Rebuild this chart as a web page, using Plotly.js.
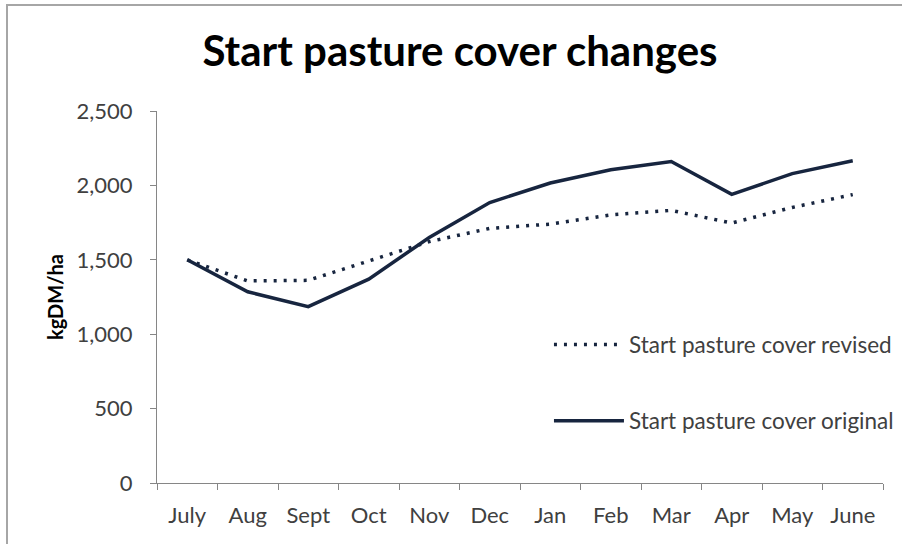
<!DOCTYPE html>
<html>
<head>
<meta charset="utf-8">
<script src="https://cdn.plot.ly/plotly-3.0.1.min.js"></script>
<style>
  html, body { margin: 0; padding: 0; background: #fff; }
  #wrap { position: relative; width: 902px; height: 544px; overflow: hidden; }
  #chart { position: absolute; left: 0; top: 0; width: 902px; height: 544px; }
  #frame { position: absolute; left: 6px; top: 4px; width: 910px; height: 560px;
           border-top: 2px solid #a6a6a6; border-left: 2px solid #a6a6a6; pointer-events: none; }
</style>
</head>
<body>
<div id="wrap">
  <div id="chart"></div>
  <div id="frame"></div>
</div>
<script>
const months = ["July","Aug","Sept","Oct","Nov","Dec","Jan","Feb","Mar","Apr","May","June"];
const revised = [1500, 1358, 1362, 1495, 1622, 1711, 1740, 1802, 1832, 1747, 1852, 1938];
const original = [1500, 1285, 1185, 1370, 1650, 1885, 2016, 2105, 2161, 1940, 2079, 2166];
const yTicks = [0, 500, 1000, 1500, 2000, 2500];
const yTickText = ["0", "500", "1,000", "1,500", "2,000", "2,500"];
const seriesNames = ["Start pasture cover revised", "Start pasture cover original"];

const lineColor = "#17253f";
const font = "Lato, 'Open Sans', sans-serif";

const traces = [
  {
    x: months, y: revised, name: seriesNames[0], type: "scatter", mode: "lines",
    legendgroup: "a",
    line: { color: lineColor, width: 3.5, dash: "3px,7px" }
  },
  {
    x: months, y: original, name: seriesNames[1], type: "scatter", mode: "lines",
    legendgroup: "b",
    line: { color: lineColor, width: 3.5 }
  }
];

const layout = {
  width: 902, height: 544,
  margin: { l: 157, r: 19, t: 111, b: 61, autoexpand: false },
  paper_bgcolor: "#ffffff", plot_bgcolor: "#ffffff",
  font: { family: font, color: "#404040", size: 22 },
  title: {
    text: "<b>Start pasture cover changes</b>",
    font: { family: font, size: 42, color: "#000000" },
    x: 0.51, xanchor: "center", y: 0.905, yanchor: "middle"
  },
  showlegend: true,
  legend: {
    xref: "container", yref: "container",
    x: 0.6086, xanchor: "left", y: 0.4057, yanchor: "top",
    tracegroupgap: 44, itemwidth: 70,
    font: { family: font, size: 22.5, color: "#404040" },
    bgcolor: "rgba(0,0,0,0)"
  },
  xaxis: {
    type: "category",
    range: [-0.5, 11.5],
    showgrid: false, zeroline: false,
    showline: true, linecolor: "#868686", linewidth: 1,
    ticks: "outside", ticklen: 6, tickcolor: "#868686", tickson: "boundaries",
    ticklabelstandoff: 13,
    tickfont: { family: font, size: 22, color: "#404040" },
    fixedrange: true
  },
  yaxis: {
    range: [0, 2500],
    tickvals: yTicks, ticktext: yTickText,
    showgrid: false, zeroline: false,
    showline: true, linecolor: "#868686", linewidth: 1,
    ticks: "outside", ticklen: 6, tickcolor: "#868686",
    ticklabelstandoff: 13,
    tickfont: { family: font, size: 22, color: "#404040" },
    title: { text: "<b>kgDM/ha</b>", font: { family: font, size: 20, color: "#000000" }, standoff: 7 },
    fixedrange: true
  }
};

Plotly.newPlot("chart", traces, layout, { displayModeBar: false, staticPlot: true });
</script>
</body>
</html>
